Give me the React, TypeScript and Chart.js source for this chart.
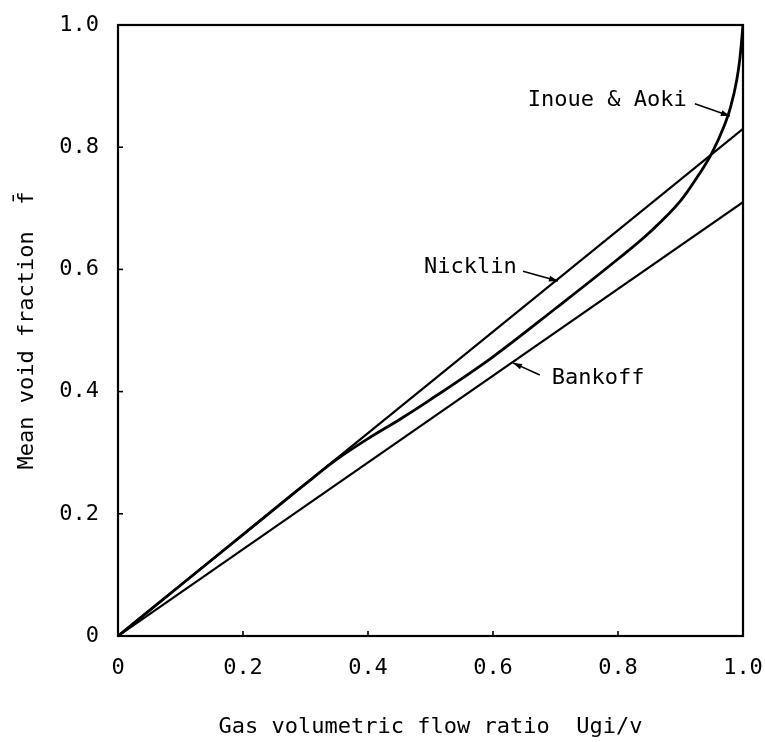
import React, { useEffect, useRef } from "react";
import { Chart, registerables } from "chart.js";

Chart.register(...registerables);

// ---- data ----
const xTickValues = [0, 0.2, 0.4, 0.6, 0.8, 1.0];
const xTickLabels = ["0", "0.2", "0.4", "0.6", "0.8", "1.0"];
const yTickValues = [0, 0.2, 0.4, 0.6, 0.8, 1.0];
const yTickLabels = ["0", "0.2", "0.4", "0.6", "0.8", "1.0"];

const nicklinX = [0, 1.0];
const nicklinY = [0, 0.83];

const bankoffX = [0, 1.0];
const bankoffY = [0, 0.71];

const inoueX = [0, 0.1, 0.2, 0.3, 0.35, 0.4, 0.45, 0.5, 0.6, 0.7, 0.8, 0.85, 0.9, 0.93, 0.95, 0.97, 0.98, 0.99, 0.995, 1.0];
const inoueY = [0, 0.083, 0.166, 0.249, 0.289, 0.323, 0.354, 0.387, 0.457, 0.536, 0.617, 0.66, 0.712, 0.756, 0.79, 0.835, 0.865, 0.91, 0.945, 1.0];

const xTitle = "Gas volumetric flow ratio  Ugi/v";
const yTitle = "Mean void fraction  f\u0304";

// curve labels (data coordinates) with leader arrows
const curveLabels = [
  { text: "Inoue & Aoki", x: 0.91, y: 0.877, align: "right", from: [0.923, 0.871], to: [0.979, 0.851] },
  { text: "Nicklin", x: 0.638, y: 0.604, align: "right", from: [0.648, 0.597], to: [0.704, 0.581] },
  { text: "Bankoff", x: 0.694, y: 0.422, align: "left", from: [0.675, 0.427], to: [0.632, 0.447] },
];

const FONT = "'DejaVu Sans Mono', 'Liberation Mono', monospace";
const INK = "#000000";

const toPoints = (xs: number[], ys: number[]) => xs.map((x, i) => ({ x, y: ys[i] }));

const framePlugin = {
  id: "frameAndLabels",
  afterDatasetsDraw(chart: any) {
    const { ctx, chartArea: a, scales } = chart;
    const sx = scales.x;
    const sy = scales.y;
    ctx.save();
    ctx.strokeStyle = INK;
    ctx.fillStyle = INK;
    ctx.lineWidth = 2.2;
    ctx.strokeRect(a.left, a.top, a.right - a.left, a.bottom - a.top);

    // inward tick marks
    ctx.lineWidth = 1.6;
    xTickValues.forEach((v) => {
      if (v <= 0 || v >= 1) return;
      const px = sx.getPixelForValue(v);
      ctx.beginPath();
      ctx.moveTo(px, a.bottom);
      ctx.lineTo(px, a.bottom - 5);
      ctx.stroke();
    });
    yTickValues.forEach((v) => {
      if (v <= 0 || v >= 1) return;
      const py = sy.getPixelForValue(v);
      ctx.beginPath();
      ctx.moveTo(a.left, py);
      ctx.lineTo(a.left + 5, py);
      ctx.stroke();
    });

    // curve labels and arrows
    ctx.font = `22px ${FONT}`;
    ctx.textBaseline = "middle";
    curveLabels.forEach((l) => {
      ctx.textAlign = l.align as CanvasTextAlign;
      ctx.fillText(l.text, sx.getPixelForValue(l.x), sy.getPixelForValue(l.y));
      const x1 = sx.getPixelForValue(l.from[0]);
      const y1 = sy.getPixelForValue(l.from[1]);
      const x2 = sx.getPixelForValue(l.to[0]);
      const y2 = sy.getPixelForValue(l.to[1]);
      ctx.lineWidth = 1.6;
      ctx.beginPath();
      ctx.moveTo(x1, y1);
      ctx.lineTo(x2, y2);
      ctx.stroke();
      const ang = Math.atan2(y2 - y1, x2 - x1);
      const len = 9;
      const wid = 3;
      ctx.beginPath();
      ctx.moveTo(x2, y2);
      ctx.lineTo(x2 - len * Math.cos(ang) + wid * Math.sin(ang), y2 - len * Math.sin(ang) - wid * Math.cos(ang));
      ctx.lineTo(x2 - len * Math.cos(ang) - wid * Math.sin(ang), y2 - len * Math.sin(ang) + wid * Math.cos(ang));
      ctx.closePath();
      ctx.fill();
    });
    ctx.restore();
  },
};

export default function App() {
  const canvasRef = useRef<HTMLCanvasElement | null>(null);

  useEffect(() => {
    const canvas = canvasRef.current;
    if (!canvas) return;
    const lineBase = {
      showLine: true,
      pointRadius: 0,
      borderColor: INK,
      backgroundColor: INK,
      fill: false,
    };
    const hiddenGrid = {
      display: true,
      drawOnChartArea: false,
      drawTicks: true,
      tickLength: 19,
      color: "rgba(0,0,0,0)",
    };
    const chart = new Chart(canvas, {
      type: "scatter",
      data: {
        datasets: [
          { ...lineBase, label: "Nicklin", data: toPoints(nicklinX, nicklinY), borderWidth: 2.2 },
          { ...lineBase, label: "Bankoff", data: toPoints(bankoffX, bankoffY), borderWidth: 2.2 },
          {
            ...lineBase,
            label: "Inoue & Aoki",
            data: toPoints(inoueX, inoueY),
            borderWidth: 2.8,
            cubicInterpolationMode: "monotone",
          },
        ],
      },
      options: {
        responsive: false,
        animation: false,
        events: [],
        layout: { padding: { left: 0, top: 25, right: 22, bottom: 0 } },
        plugins: {
          legend: { display: false },
          tooltip: { enabled: false },
        },
        scales: {
          x: {
            type: "linear",
            min: 0,
            max: 1,
            afterFit: (s: any) => {
              s.height = 106;
            },
            afterBuildTicks: (s: any) => {
              s.ticks = xTickValues.map((v) => ({ value: v }));
            },
            grid: hiddenGrid,
            border: { display: false },
            ticks: {
              padding: 0,
              color: INK,
              font: { family: FONT, size: 22 },
              maxRotation: 0,
              callback: (v: any) => {
                const i = xTickValues.findIndex((t) => Math.abs(t - Number(v)) < 1e-9);
                return i >= 0 ? xTickLabels[i] : "";
              },
            },
            title: {
              display: true,
              text: xTitle,
              color: INK,
              font: { family: FONT, size: 22 },
              padding: { top: 0, bottom: 2 },
            },
          },
          y: {
            type: "linear",
            min: 0,
            max: 1,
            afterFit: (s: any) => {
              s.width = 118;
            },
            afterBuildTicks: (s: any) => {
              s.ticks = yTickValues.map((v) => ({ value: v }));
            },
            grid: hiddenGrid,
            border: { display: false },
            ticks: {
              padding: 0,
              color: INK,
              font: { family: FONT, size: 22 },
              callback: (v: any) => {
                const i = yTickValues.findIndex((t) => Math.abs(t - Number(v)) < 1e-9);
                return i >= 0 ? yTickLabels[i] : "";
              },
            },
            title: {
              display: true,
              text: yTitle,
              color: INK,
              font: { family: FONT, size: 22 },
              padding: { top: 14, bottom: 0 },
            },
          },
        },
      } as any,
      plugins: [framePlugin],
    });
    return () => chart.destroy();
  }, []);

  return (
    <div style={{ position: "absolute", left: 0, top: 0, width: 765, height: 742, background: "#fff" }}>
      <canvas ref={canvasRef} width={765} height={742} style={{ display: "block" }} />
    </div>
  );
}
